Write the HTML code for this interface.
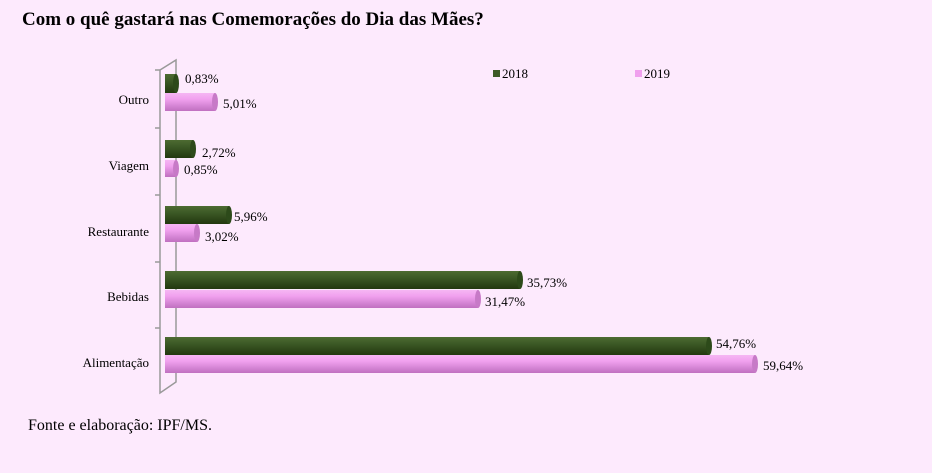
<!DOCTYPE html>
<html><head><meta charset="utf-8"><style>
body{margin:0;background:#fdeafd;}
svg{display:block;font-family:"Liberation Serif",serif;}
</style></head><body>
<svg width="932" height="473" viewBox="0 0 932 473" xmlns="http://www.w3.org/2000/svg">
<defs>
<linearGradient id="g" x1="0" y1="0" x2="0" y2="1">
<stop offset="0" stop-color="#4d6b32"/><stop offset="0.35" stop-color="#3d5a26"/><stop offset="1" stop-color="#22380f"/></linearGradient>
<linearGradient id="p" x1="0" y1="0" x2="0" y2="1">
<stop offset="0" stop-color="#f6b6f4"/><stop offset="0.35" stop-color="#f0a0ee"/><stop offset="1" stop-color="#c070c0"/></linearGradient>
</defs>
<rect width="932" height="473" fill="#fdeafd"/>
<text x="22" y="25" font-size="19" font-weight="bold">Com o quê gastará nas Comemorações do Dia das Mães?</text>
<g stroke="#999" stroke-width="1.5" fill="none">
<path d="M160 70 L176 60 L176 382 L160 393 L160 70"/>
<path d="M155 128 L160 128 M155 195 L160 195 M155 262 L160 262 M155 328 L160 328 M155 70 L160 70"/>
</g>
<g font-size="13" text-anchor="end">
<text x="149" y="104">Outro</text>
<text x="149" y="170">Viagem</text>
<text x="149" y="236">Restaurante</text>
<text x="149" y="301">Bebidas</text>
<text x="149" y="367">Alimentação</text>
</g>
<g>
<rect x="165" y="74" width="11" height="19" fill="url(#g)"/><ellipse cx="176" cy="83.5" rx="3" ry="9.5" fill="#2d4a1a"/>
<rect x="165" y="93" width="50" height="18" fill="url(#p)"/><ellipse cx="215" cy="102" rx="3" ry="9" fill="#c77ac7"/>
<rect x="165" y="140" width="28" height="18" fill="url(#g)"/><ellipse cx="193" cy="149" rx="3" ry="9" fill="#2d4a1a"/>
<rect x="165" y="160" width="11" height="17" fill="url(#p)"/><ellipse cx="176" cy="168.5" rx="3" ry="8.5" fill="#c77ac7"/>
<rect x="165" y="206" width="64" height="18" fill="url(#g)"/><ellipse cx="229" cy="215" rx="3" ry="9" fill="#2d4a1a"/>
<rect x="165" y="224" width="32" height="18" fill="url(#p)"/><ellipse cx="197" cy="233" rx="3" ry="9" fill="#c77ac7"/>
<rect x="165" y="271" width="355" height="18" fill="url(#g)"/><ellipse cx="520" cy="280" rx="3" ry="9" fill="#2d4a1a"/>
<rect x="165" y="290" width="313" height="18" fill="url(#p)"/><ellipse cx="478" cy="299" rx="3" ry="9" fill="#c77ac7"/>
<rect x="165" y="337" width="544" height="18" fill="url(#g)"/><ellipse cx="709" cy="346" rx="3" ry="9" fill="#2d4a1a"/>
<rect x="165" y="355" width="590" height="18" fill="url(#p)"/><ellipse cx="755" cy="364" rx="3" ry="9" fill="#c77ac7"/>
</g>
<g font-size="13">
<text x="185" y="83">0,83%</text>
<text x="223" y="108">5,01%</text>
<text x="202" y="157">2,72%</text>
<text x="184" y="174">0,85%</text>
<text x="234" y="221">5,96%</text>
<text x="205" y="241">3,02%</text>
<text x="527" y="287">35,73%</text>
<text x="485" y="306">31,47%</text>
<text x="716" y="348">54,76%</text>
<text x="763" y="370">59,64%</text>
</g>
<rect x="493" y="70" width="7" height="7" fill="#3d5a26"/>
<text x="502" y="78" font-size="13">2018</text>
<rect x="635" y="70" width="7" height="7" fill="#f0a0ee"/>
<text x="644" y="78" font-size="13">2019</text>
<text x="28" y="430" font-size="16">Fonte e elaboração: IPF/MS.</text>
</svg>
</body></html>
